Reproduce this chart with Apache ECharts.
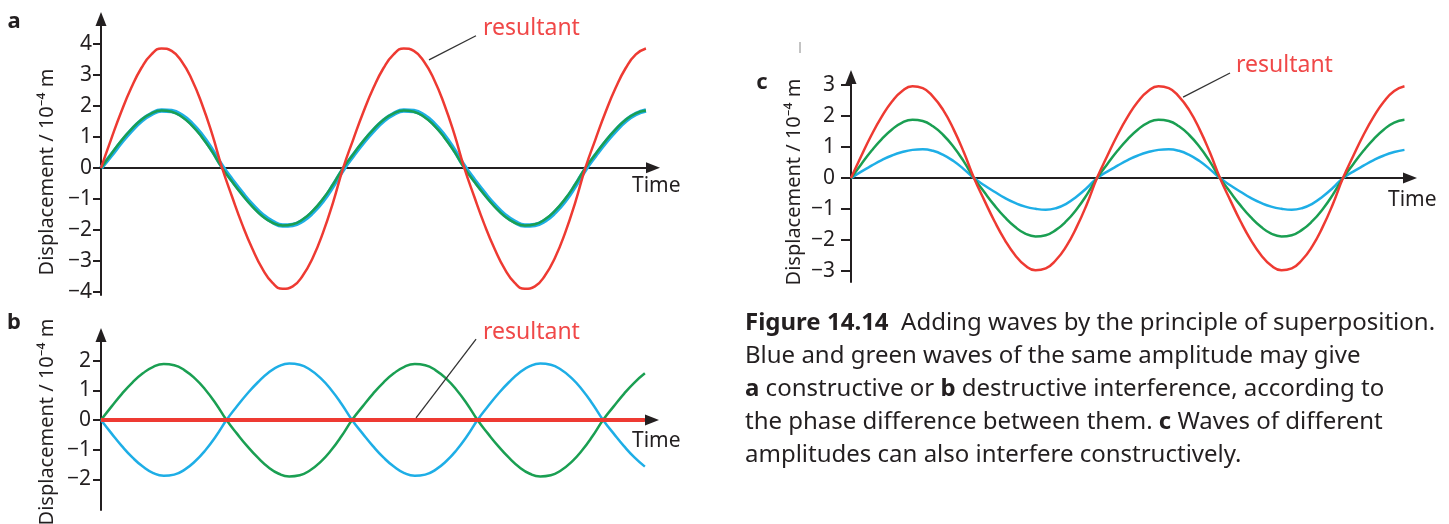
<!DOCTYPE html>
<html lang="en">
<head>
<meta charset="UTF-8">
<title>Superposition</title>
<script src="https://cdn.jsdelivr.net/npm/echarts@6/dist/echarts.min.js"></script>
<style>
    html, body { margin: 0; padding: 0; background: #fff; }
    #chart { width: 1449px; height: 524px; }
</style>
</head>
<body>
<div id="chart"></div>
<script>
// time, one unit = 1/12 of a period, sampled every half unit (15 degrees of phase)
var timeA = [0,0.5,1,1.5,2,2.5,3,3.5,4,4.5,5,5.5,6,6.5,7,7.5,8,8.5,9,9.5,10,10.5,11,11.5,12,12.5,13,13.5,
    14,14.5,15,15.5,16,16.5,17,17.5,18,18.5,19,19.5,20,20.5,21,21.5,22,22.5,23,23.5,24,24.5,25,25.5,26,26.5,27];
var timeB = [0,0.5,1,1.5,2,2.5,3,3.5,4,4.5,5,5.5,6,6.5,7,7.5,8,8.5,9,9.5,10,10.5,11,11.5,12,12.5,13,13.5,
    14,14.5,15,15.5,16,16.5,17,17.5,18,18.5,19,19.5,20,20.5,21,21.5,22,22.5,23,23.5,24,24.5,25,25.5,26];
var timeC = timeA;

// a: constructive, same amplitude (10^-4 m)
var redA = [0,0.92,1.8,2.58,3.22,3.66,3.85,3.77,3.43,2.85,2.06,1.1,
    0,-0.94,-1.83,-2.61,-3.26,-3.71,-3.9,-3.82,-3.47,-2.89,-2.09,-1.11,
    0,0.92,1.8,2.58,3.22,3.66,3.85,3.77,3.43,2.85,2.06,1.1,
    0,-0.94,-1.83,-2.61,-3.26,-3.71,-3.9,-3.82,-3.47,-2.89,-2.09,-1.11,
    0,0.92,1.8,2.58,3.22,3.66,3.85];
var greenA = [0,0.44,0.87,1.24,1.55,1.76,1.85,1.81,1.65,1.37,0.99,0.53,
    0,-0.45,-0.87,-1.25,-1.56,-1.77,-1.86,-1.82,-1.66,-1.38,-1.0,-0.53,
    0,0.44,0.87,1.24,1.55,1.76,1.85,1.81,1.65,1.37,0.99,0.53,
    0,-0.45,-0.87,-1.25,-1.56,-1.77,-1.86,-1.82,-1.66,-1.38,-1.0,-0.53,
    0,0.44,0.87,1.24,1.55,1.76,1.85];
var blueA = [0,0.4,0.82,1.2,1.52,1.74,1.85,1.83,1.69,1.42,1.05,0.58,
    0.05,-0.4,-0.82,-1.2,-1.52,-1.74,-1.86,-1.84,-1.7,-1.43,-1.06,-0.58,
    -0.05,0.4,0.82,1.2,1.52,1.74,1.85,1.83,1.69,1.42,1.05,0.58,
    0.05,-0.4,-0.82,-1.2,-1.52,-1.74,-1.86,-1.84,-1.7,-1.43,-1.06,-0.58,
    -0.05,0.4,0.82,1.2,1.52,1.74,1.85];

// b: destructive
var redB = [0,0,0,0,0,0,0,0,0,0,0,0,0,0,0,0,0,0,0,0,0,0,0,0,0,0,
    0,0,0,0,0,0,0,0,0,0,0,0,0,0,0,0,0,0,0,0,0,0,0,0,0,0,0];
var greenB = [0,0.45,0.88,1.26,1.57,1.79,1.88,1.84,1.67,1.39,1.01,0.54,
    0,-0.46,-0.89,-1.27,-1.59,-1.81,-1.9,-1.86,-1.69,-1.41,-1.02,-0.54,
    0,0.45,0.88,1.26,1.57,1.79,1.88,1.84,1.67,1.39,1.01,0.54,
    0,-0.46,-0.89,-1.27,-1.59,-1.81,-1.9,-1.86,-1.69,-1.41,-1.02,-0.54,
    0,0.45,0.88,1.26,1.57];
var blueB = [0,-0.45,-0.88,-1.26,-1.57,-1.79,-1.88,-1.84,-1.67,-1.39,-1.01,-0.54,
    0,0.46,0.89,1.27,1.59,1.81,1.9,1.86,1.69,1.41,1.02,0.54,
    0,-0.45,-0.88,-1.26,-1.57,-1.79,-1.88,-1.84,-1.67,-1.39,-1.01,-0.54,
    0,0.46,0.89,1.27,1.59,1.81,1.9,1.86,1.69,1.41,1.02,0.54,
    0,-0.45,-0.88,-1.26,-1.57];

// c: different amplitudes
var redC = [0,0.71,1.39,1.98,2.47,2.81,2.96,2.9,2.63,2.19,1.58,0.84,
    0,-0.71,-1.39,-1.99,-2.48,-2.82,-2.97,-2.91,-2.64,-2.2,-1.59,-0.85,
    0,0.71,1.39,1.98,2.47,2.81,2.96,2.9,2.63,2.19,1.58,0.84,
    0,-0.71,-1.39,-1.99,-2.48,-2.82,-2.97,-2.91,-2.64,-2.2,-1.59,-0.85,
    0,0.71,1.39,1.98,2.47,2.81,2.96];
var greenC = [0,0.45,0.88,1.26,1.57,1.79,1.88,1.84,1.67,1.39,1.01,0.54,
    0,-0.45,-0.88,-1.26,-1.57,-1.79,-1.88,-1.84,-1.67,-1.39,-1.01,-0.54,
    0,0.45,0.88,1.26,1.57,1.79,1.88,1.84,1.67,1.39,1.01,0.54,
    0,-0.45,-0.88,-1.26,-1.57,-1.79,-1.88,-1.84,-1.67,-1.39,-1.01,-0.54,
    0,0.45,0.88,1.26,1.57,1.79,1.88];
var blueC = [0,0.21,0.4,0.58,0.73,0.84,0.91,0.93,0.88,0.75,0.55,0.29,
    0,-0.23,-0.44,-0.64,-0.8,-0.92,-0.99,-1.02,-0.97,-0.83,-0.6,-0.32,
    0,0.21,0.4,0.58,0.73,0.84,0.91,0.93,0.88,0.75,0.55,0.29,
    0,-0.23,-0.44,-0.64,-0.8,-0.92,-0.99,-1.02,-0.97,-0.83,-0.6,-0.32,
    0,0.21,0.4,0.58,0.73,0.84,0.91];

// tick labels
var ticksA = [-4,-3,-2,-1,0,1,2,3,4];
var ticksB = [-2,-1,0,1,2];
var ticksC = [-3,-2,-1,0,1,2,3];

// "resultant" leader lines, [from, to] in data units
var leaderA = [[18.58, 4.26], [16.25, 3.48]];
var leaderB = [[17.93, 2.72], [15.06, 0.07]];
var leaderC = [[18.49, 3.39], [16.2, 2.61]];

var FONT = '"Noto Sans", sans-serif';
var INK = '#231f20';
var RED = '#ee3a32';
var GREEN = '#1a9f52';
var BLUE = '#1eaee6';

function zip(t, v) {
    return t.map(function (x, i) { return [x, v[i]]; });
}

function makeX(idx, max) {
    return {
        type: 'value', gridIndex: idx, min: 0, max: max,
        axisLine: { onZero: true, lineStyle: { color: INK, width: 2 }, symbol: ['none', 'triangle'], symbolSize: [11, 14] },
        axisTick: { show: false }, axisLabel: { show: false }, splitLine: { show: false }
    };
}

function makeY(idx, min, max, ticks, margin, tickLen) {
    return {
        type: 'value', gridIndex: idx, min: min, max: max,
        axisLine: { show: true, onZero: false, lineStyle: { color: INK, width: 2 }, symbol: ['none', 'triangle'], symbolSize: [11, 14] },
        axisTick: { show: true, length: tickLen, customValues: ticks, lineStyle: { color: INK, width: 2 } },
        axisLabel: {
            customValues: ticks, margin: margin, color: INK, fontSize: 21, fontFamily: FONT,
            formatter: function (v) { return v < 0 ? '\u2212' + Math.abs(v) : String(v); }
        },
        splitLine: { show: false }
    };
}

function line(idx, t, v, color, width, z) {
    return {
        type: 'line', xAxisIndex: idx, yAxisIndex: idx, data: zip(t, v),
        smooth: true, showSymbol: false, symbol: 'none', silent: true, z: z,
        lineStyle: { color: color, width: width }
    };
}

var chart = echarts.init(document.getElementById('chart'));
chart.setOption({
    animation: false,
    grid: [
        { left: 101, top: 19, width: 552, height: 276 },
        { left: 101, top: 335, width: 551, height: 175 },
        { left: 851, top: 77, width: 559, height: 205 }
    ],
    xAxis: [makeX(0, 27.35), makeX(1, 26.34), makeX(2, 27.27)],
    yAxis: [
        makeY(0, -4.1, 4.8, ticksA, 9, 8),
        makeY(1, -3.03, 2.86, ticksB, 10, 8),
        makeY(2, -3.35, 3.26, ticksC, 16, 10)
    ],
    series: [
        line(0, timeA, blueA, BLUE, 4.5, 2),
        line(0, timeA, greenA, GREEN, 2.5, 3),
        line(0, timeA, redA, RED, 2.5, 4),
        line(1, timeB, greenB, GREEN, 2.5, 2),
        line(1, timeB, blueB, BLUE, 2.5, 3),
        line(1, timeB, redB, RED, 4, 4),
        line(2, timeC, blueC, BLUE, 2.5, 2),
        line(2, timeC, greenC, GREEN, 2.5, 3),
        line(2, timeC, redC, RED, 2.5, 4)
    ]
});

function txt(x, y, text, opts) {
    var s = { text: text, fontSize: 21, fontFamily: FONT, fill: INK, align: 'left', verticalAlign: 'middle' };
    for (var k in opts) s[k] = opts[k];
    return { type: 'text', x: x, y: y, style: s, z: 10 };
}

function yName(x, y) {
    var g = txt(0, 0, 'Displacement / 10\u207B\u2074 m', { fontSize: 20, align: 'center' });
    g.x = x; g.y = y; g.rotation = Math.PI / 2;
    return g;
}

function leader(gridIndex, pts) {
    var p1 = chart.convertToPixel({ gridIndex: gridIndex }, pts[0]);
    var p2 = chart.convertToPixel({ gridIndex: gridIndex }, pts[1]);
    return { type: 'line', shape: { x1: p1[0], y1: p1[1], x2: p2[0], y2: p2[1] }, style: { stroke: '#333', lineWidth: 1.3 }, z: 10 };
}

var bold = { fontWeight: 'bold', fontSize: 22 };
var captionRich = {
    n: { fontSize: 24, fontFamily: FONT, fill: INK, lineHeight: 33 },
    b: { fontSize: 24, fontFamily: FONT, fill: INK, fontWeight: 'bold', lineHeight: 33 }
};
var caption = [
    '{b|Figure 14.14}{n|  Adding waves by the principle of superposition.}',
    '{n|Blue and green waves of the same amplitude may give}',
    '{b|a}{n| constructive or }{b|b}{n| destructive interference, according to}',
    '{n|the phase difference between them. }{b|c}{n| Waves of different}',
    '{n|amplitudes can also interfere constructively.}'
].join('\n');

chart.setOption({
    graphic: [
        txt(14, 22, 'a', Object.assign({ align: 'center' }, bold)),
        txt(14, 323, 'b', Object.assign({ align: 'center' }, bold)),
        txt(762, 83, 'c', Object.assign({ align: 'center' }, bold)),
        yName(47, 172),
        yName(47, 422),
        yName(794, 182),
        txt(632, 186, 'Time'),
        txt(632, 441, 'Time'),
        txt(1388, 200, 'Time'),
        txt(483, 28, 'resultant', { fill: '#f04848', fontSize: 23 }),
        txt(483, 332, 'resultant', { fill: '#f04848', fontSize: 23 }),
        txt(1236, 65, 'resultant', { fill: '#f04848', fontSize: 23 }),
        leader(0, leaderA),
        leader(1, leaderB),
        leader(2, leaderC),
        { type: 'line', shape: { x1: 800, y1: 42, x2: 800, y2: 53 }, style: { stroke: '#888', lineWidth: 1 } },
        {
            type: 'text', x: 745, y: 307, z: 10,
            style: { text: caption, rich: captionRich, fontSize: 24, fontFamily: FONT, fill: INK, lineHeight: 33, align: 'left', verticalAlign: 'top' }
        }
    ]
});
</script>
</body>
</html>
